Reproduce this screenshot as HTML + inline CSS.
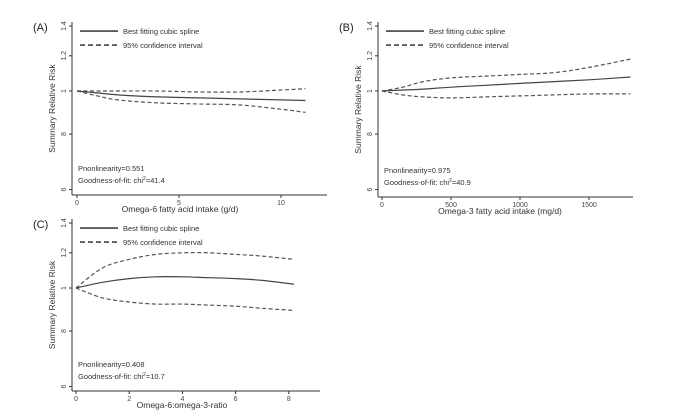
<!DOCTYPE html>
<html><head><meta charset="utf-8"><style>
body{margin:0;background:#fff;}
svg{display:block;font-family:"Liberation Sans",sans-serif;}
</style></head><body>
<svg id="c" width="678" height="416"></svg>
<script>
const yTicks=[1.4,1.2,1,0.8,0.6];
const yTickLabels=["1.4","1.2","1","8","6"];
const aX=[0,1,2,4,6,8,10,11.2];
const aMain=[1,0.99,0.98,0.97,0.965,0.96,0.955,0.952];
const aUp=[1,1.0,1.0,1.0,0.995,0.995,1.005,1.012];
const aLo=[1,0.975,0.955,0.94,0.935,0.93,0.91,0.895];
const aXTicks=[0,5,10];
const bX=[0,150,300,500,750,1000,1250,1500,1800];
const bMain=[1,1.005,1.01,1.02,1.03,1.04,1.05,1.06,1.075];
const bUp=[1,1.02,1.05,1.07,1.08,1.09,1.1,1.13,1.18];
const bLo=[1,0.98,0.97,0.965,0.97,0.975,0.98,0.985,0.985];
const bXTicks=[0,500,1000,1500];
const cX=[0,1,2,3,4,5,6,7,8.2];
const cMain=[1,1.03,1.05,1.06,1.06,1.055,1.05,1.04,1.02];
const cUp=[1,1.11,1.16,1.19,1.2,1.2,1.19,1.18,1.16];
const cLo=[1,0.95,0.93,0.92,0.92,0.915,0.91,0.9,0.89];
const cXTicks=[0,2,4,6,8];
const panels=[
 {id:"a",label:"(A)",xs:[77,20.4],axEnd:327,x:aX,m:aMain,u:aUp,l:aLo,xt:aXTicks,xl:"Omega-6 fatty acid intake (g/d)",xlx:180,p:"0.551",g:"41.4",y1:91,ax:72,axB:195},
 {id:"b",label:"(B)",xs:[382,0.138],axEnd:633,x:bX,m:bMain,u:bUp,l:bLo,xt:bXTicks,xl:"Omega-3 fatty acid intake (mg/d)",xlx:500,p:"0.975",g:"40.9",y1:91,ax:378,axB:197},
 {id:"c",label:"(C)",xs:[76,26.6],axEnd:320,x:cX,m:cMain,u:cUp,l:cLo,xt:cXTicks,xl:"Omega-6:omega-3-ratio",xlx:182,p:"0.408",g:"10.7",y1:288,ax:72,axB:391}
];
const NS="http://www.w3.org/2000/svg";
const svg=document.getElementById('c');
function mk(t,a,parent){const e=document.createElementNS(NS,t);for(const k in a)e.setAttribute(k,a[k]);(parent||svg).appendChild(e);return e;}
function smooth(pts){
 let d='M'+pts[0][0].toFixed(1)+','+pts[0][1].toFixed(1);
 for(let i=0;i<pts.length-1;i++){
  const p0=pts[Math.max(0,i-1)],p1=pts[i],p2=pts[i+1],p3=pts[Math.min(pts.length-1,i+2)];
  const c1=[p1[0]+(p2[0]-p0[0])/6,p1[1]+(p2[1]-p0[1])/6];
  const c2=[p2[0]-(p3[0]-p1[0])/6,p2[1]-(p3[1]-p1[1])/6];
  d+='C'+c1.map(v=>v.toFixed(1)).join(',')+' '+c2.map(v=>v.toFixed(1)).join(',')+' '+p2[0].toFixed(1)+','+p2[1].toFixed(1);
 }
 return d;
}
panels.forEach(P=>{
 const g=mk('g',{});
 
 
 const X=v=>P.xs[0]+v*P.xs[1];
 const Y=v=>P.y1-Math.log(v)*193;
 const top=Y(1.4)-4;
 const ya=mk('line',{x1:P.ax,x2:P.ax,y1:top,y2:P.axB,stroke:'#333','stroke-width':1},g);
 
 const xa=mk('line',{x1:P.ax,x2:P.axEnd,y1:P.axB,y2:P.axB,stroke:'#333','stroke-width':1},g);
 
 yTicks.forEach((t,i)=>{
  const y=Y(t);
  mk('line',{x1:P.ax-3,x2:P.ax,y1:y,y2:y,stroke:'#333'},g);
  const tx=mk('text',{x:P.ax-6,y:y,'font-size':7,fill:'#444','text-anchor':'middle',transform:`rotate(-90 ${P.ax-6} ${y})`},g);
  tx.textContent=yTickLabels[i];
  
 });
 P.xt.forEach(t=>{
  const x=X(t);
  mk('line',{x1:x,x2:x,y1:P.axB,y2:P.axB+3,stroke:'#333'},g);
  const tx=mk('text',{x:x,y:P.axB+10,'font-size':7,fill:'#444','text-anchor':'middle'},g);
  tx.textContent=t;
  
 });
 const xl=mk('text',{x:P.xlx,y:P.axB+17,'font-size':8.5,fill:'#333','text-anchor':'middle'},g);
 xl.textContent=P.xl;
 const yc=(top+P.axB)/2, yx=P.ax-17;
 const yl=mk('text',{x:yx,y:yc,'font-size':8.5,fill:'#333','text-anchor':'middle',transform:`rotate(-90 ${yx} ${yc})`},g);
 yl.textContent="Summary Relative Risk";
 const pl=mk('text',{x:P.ax-39,y:top+9,'font-size':11,fill:'#222'},g);
 pl.textContent=P.label;
 const lx=P.ax+8, ly=top+9;
 mk('line',{x1:lx,x2:lx+38,y1:ly,y2:ly,stroke:'#222','stroke-width':1.3},g);
 mk('line',{x1:lx,x2:lx+38,y1:ly+14,y2:ly+14,stroke:'#222','stroke-width':1.3,'stroke-dasharray':'5,3'},g);
 const l1=mk('text',{x:lx+43,y:ly+3,'font-size':7.5,fill:'#333'},g);l1.textContent="Best fitting cubic spline";
 
 const l2=mk('text',{x:lx+43,y:ly+17,'font-size':7.5,fill:'#333'},g);l2.textContent="95% confidence interval";
 
 const a1=mk('text',{x:P.ax+6,y:P.axB-24,'font-size':7.5,fill:'#333'},g);a1.textContent="Pnonlinearity="+P.p;
 
 const a2=mk('text',{x:P.ax+6,y:P.axB-12,'font-size':7.5,fill:'#333'},g);a2.innerHTML="Goodness-of-fit: chi<tspan font-size='5' dy='-3'>2</tspan><tspan dy='3'>="+P.g+"</tspan>";
 
 const line=(arr,dash,col,name)=>{
  const d=smooth(arr.map((v,i)=>[X(P.x[i]),Y(v)]));
  const p=mk('path',{d:d,fill:'none',stroke:col,'stroke-width':1.2,'stroke-dasharray':dash},g);
  
 };
 line(P.u,'4,2.5','#555','ci-upper');
 line(P.l,'4,2.5','#555','ci-lower');
 line(P.m,'none','#444','spline-line');
});
</script>
</body></html>
